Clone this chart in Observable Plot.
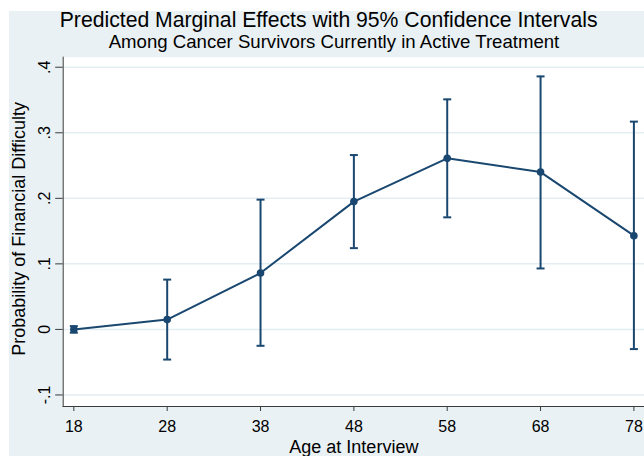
<!DOCTYPE html>
<html>
<head>
<meta charset="utf-8">
<script src="https://cdn.jsdelivr.net/npm/d3@7"></script>
<script src="https://cdn.jsdelivr.net/npm/@observablehq/plot@0.6"></script>
<style>
  html, body { margin: 0; padding: 0; background: #ffffff; }
  body { position: relative; width: 644px; height: 456px; overflow: hidden; font-family: "Liberation Sans", Arial, sans-serif; }
  #bg { position: absolute; left: 9px; top: 11px; right: 0; bottom: 0; background: #e9f1f4; }
  #head { position: relative; height: 50px; }
  #head div { position: absolute; white-space: nowrap; line-height: 1; color: #000; transform: translateX(-50%); }
  #title { font-size: 21.2px; top: 8.8px; left: 328.6px; }
  #subtitle { font-size: 18.6px; top: 33px; left: 334px; }
  #chart { position: relative; }
</style>
</head>
<body>
<div id="bg"></div>
<div id="head"><div id="title"></div><div id="subtitle"></div></div>
<div id="chart"></div>
<script>
const titleText = "Predicted Marginal Effects with 95% Confidence Intervals";
const subtitleText = "Among Cancer Survivors Currently in Active Treatment";
const xLabel = "Age at Interview";
const yLabel = "Probability of Financial Difficulty";

const ages    = [18, 28, 38, 48, 58, 68, 78];
const margins = [0.000, 0.015, 0.086, 0.195, 0.261, 0.240, 0.143];
const lower   = [-0.005, -0.046, -0.025, 0.124, 0.171, 0.093, -0.030];
const upper   = [0.005, 0.076, 0.198, 0.266, 0.351, 0.386, 0.317];

const yTicks = [-0.1, 0, 0.1, 0.2, 0.3, 0.4];
const yTickLabels = ["-.1", "0", ".1", ".2", ".3", ".4"];
const xTicks = [18, 28, 38, 48, 58, 68, 78];
const xTickLabels = ["18", "28", "38", "48", "58", "68", "78"];

document.getElementById("title").textContent = titleText;
document.getElementById("subtitle").textContent = subtitleText;

const data = ages.map((a, i) => ({age: a, m: margins[i], lo: lower[i], hi: upper[i]}));
const yFmt = new Map(yTicks.map((t, i) => [t, yTickLabels[i]]));
const xFmt = new Map(xTicks.map((t, i) => [t, xTickLabels[i]]));

const navy = "#1a476f";
const axisColor = "#3a3a3a";
const capSymbol = {
  draw(ctx, size) {
    const r = Math.sqrt(size / Math.PI);
    ctx.moveTo(-r, 0);
    ctx.lineTo(r, 0);
  }
};

const chart = Plot.plot({
  width: 644,
  height: 406,
  marginTop: 6.7,
  marginBottom: 50,
  marginLeft: 62.7,
  marginRight: 0,
  style: {fontFamily: '"Liberation Sans", Arial, sans-serif', fontSize: "16px", background: "transparent", color: "#000", overflow: "hidden"},
  x: {domain: [16.86, 79.135]},
  y: {domain: [-0.1176, 0.4153]},
  marks: [
    Plot.frame({fill: "white", stroke: "none"}),
    Plot.gridY(yTicks, {stroke: "#e4edf1", strokeOpacity: 1, strokeWidth: 1.5}),
    Plot.frame({anchor: "left", stroke: axisColor, strokeWidth: 1}),
    Plot.frame({anchor: "bottom", stroke: axisColor, strokeWidth: 1}),
    Plot.axisY(yTicks, {
      tickFormat: d => yFmt.get(d), tickSize: 7.5, tickPadding: 6, tickRotate: -90,
      stroke: axisColor, fill: "#000", fontSize: 16, label: null
    }),
    Plot.axisX(xTicks, {
      tickFormat: d => xFmt.get(d), tickSize: 5, tickPadding: 9,
      stroke: axisColor, fill: "#000", fontSize: 16, label: null
    }),
    Plot.text([yLabel], {frameAnchor: "left", text: d => d, rotate: -90, textAnchor: "middle", lineAnchor: "top", dx: -51.2, dy: -3, fontSize: 18, fill: "#000"}),
    Plot.text([xLabel], {frameAnchor: "bottom", text: d => d, textAnchor: "middle", lineAnchor: "top", dy: 34.2, fontSize: 18, fill: "#000"}),
    Plot.ruleX(data, {x: "age", y1: "lo", y2: "hi", stroke: navy, strokeWidth: 2}),
    Plot.dot(data, {x: "age", y: "lo", symbol: capSymbol, r: 4, stroke: navy, fill: "none", strokeWidth: 2}),
    Plot.dot(data, {x: "age", y: "hi", symbol: capSymbol, r: 4, stroke: navy, fill: "none", strokeWidth: 2}),
    Plot.line(data, {x: "age", y: "m", stroke: navy, strokeWidth: 2}),
    Plot.dot(data, {x: "age", y: "m", r: 3.8, fill: navy, stroke: "none"})
  ]
});
document.getElementById("chart").appendChild(chart);
</script>
</body>
</html>
